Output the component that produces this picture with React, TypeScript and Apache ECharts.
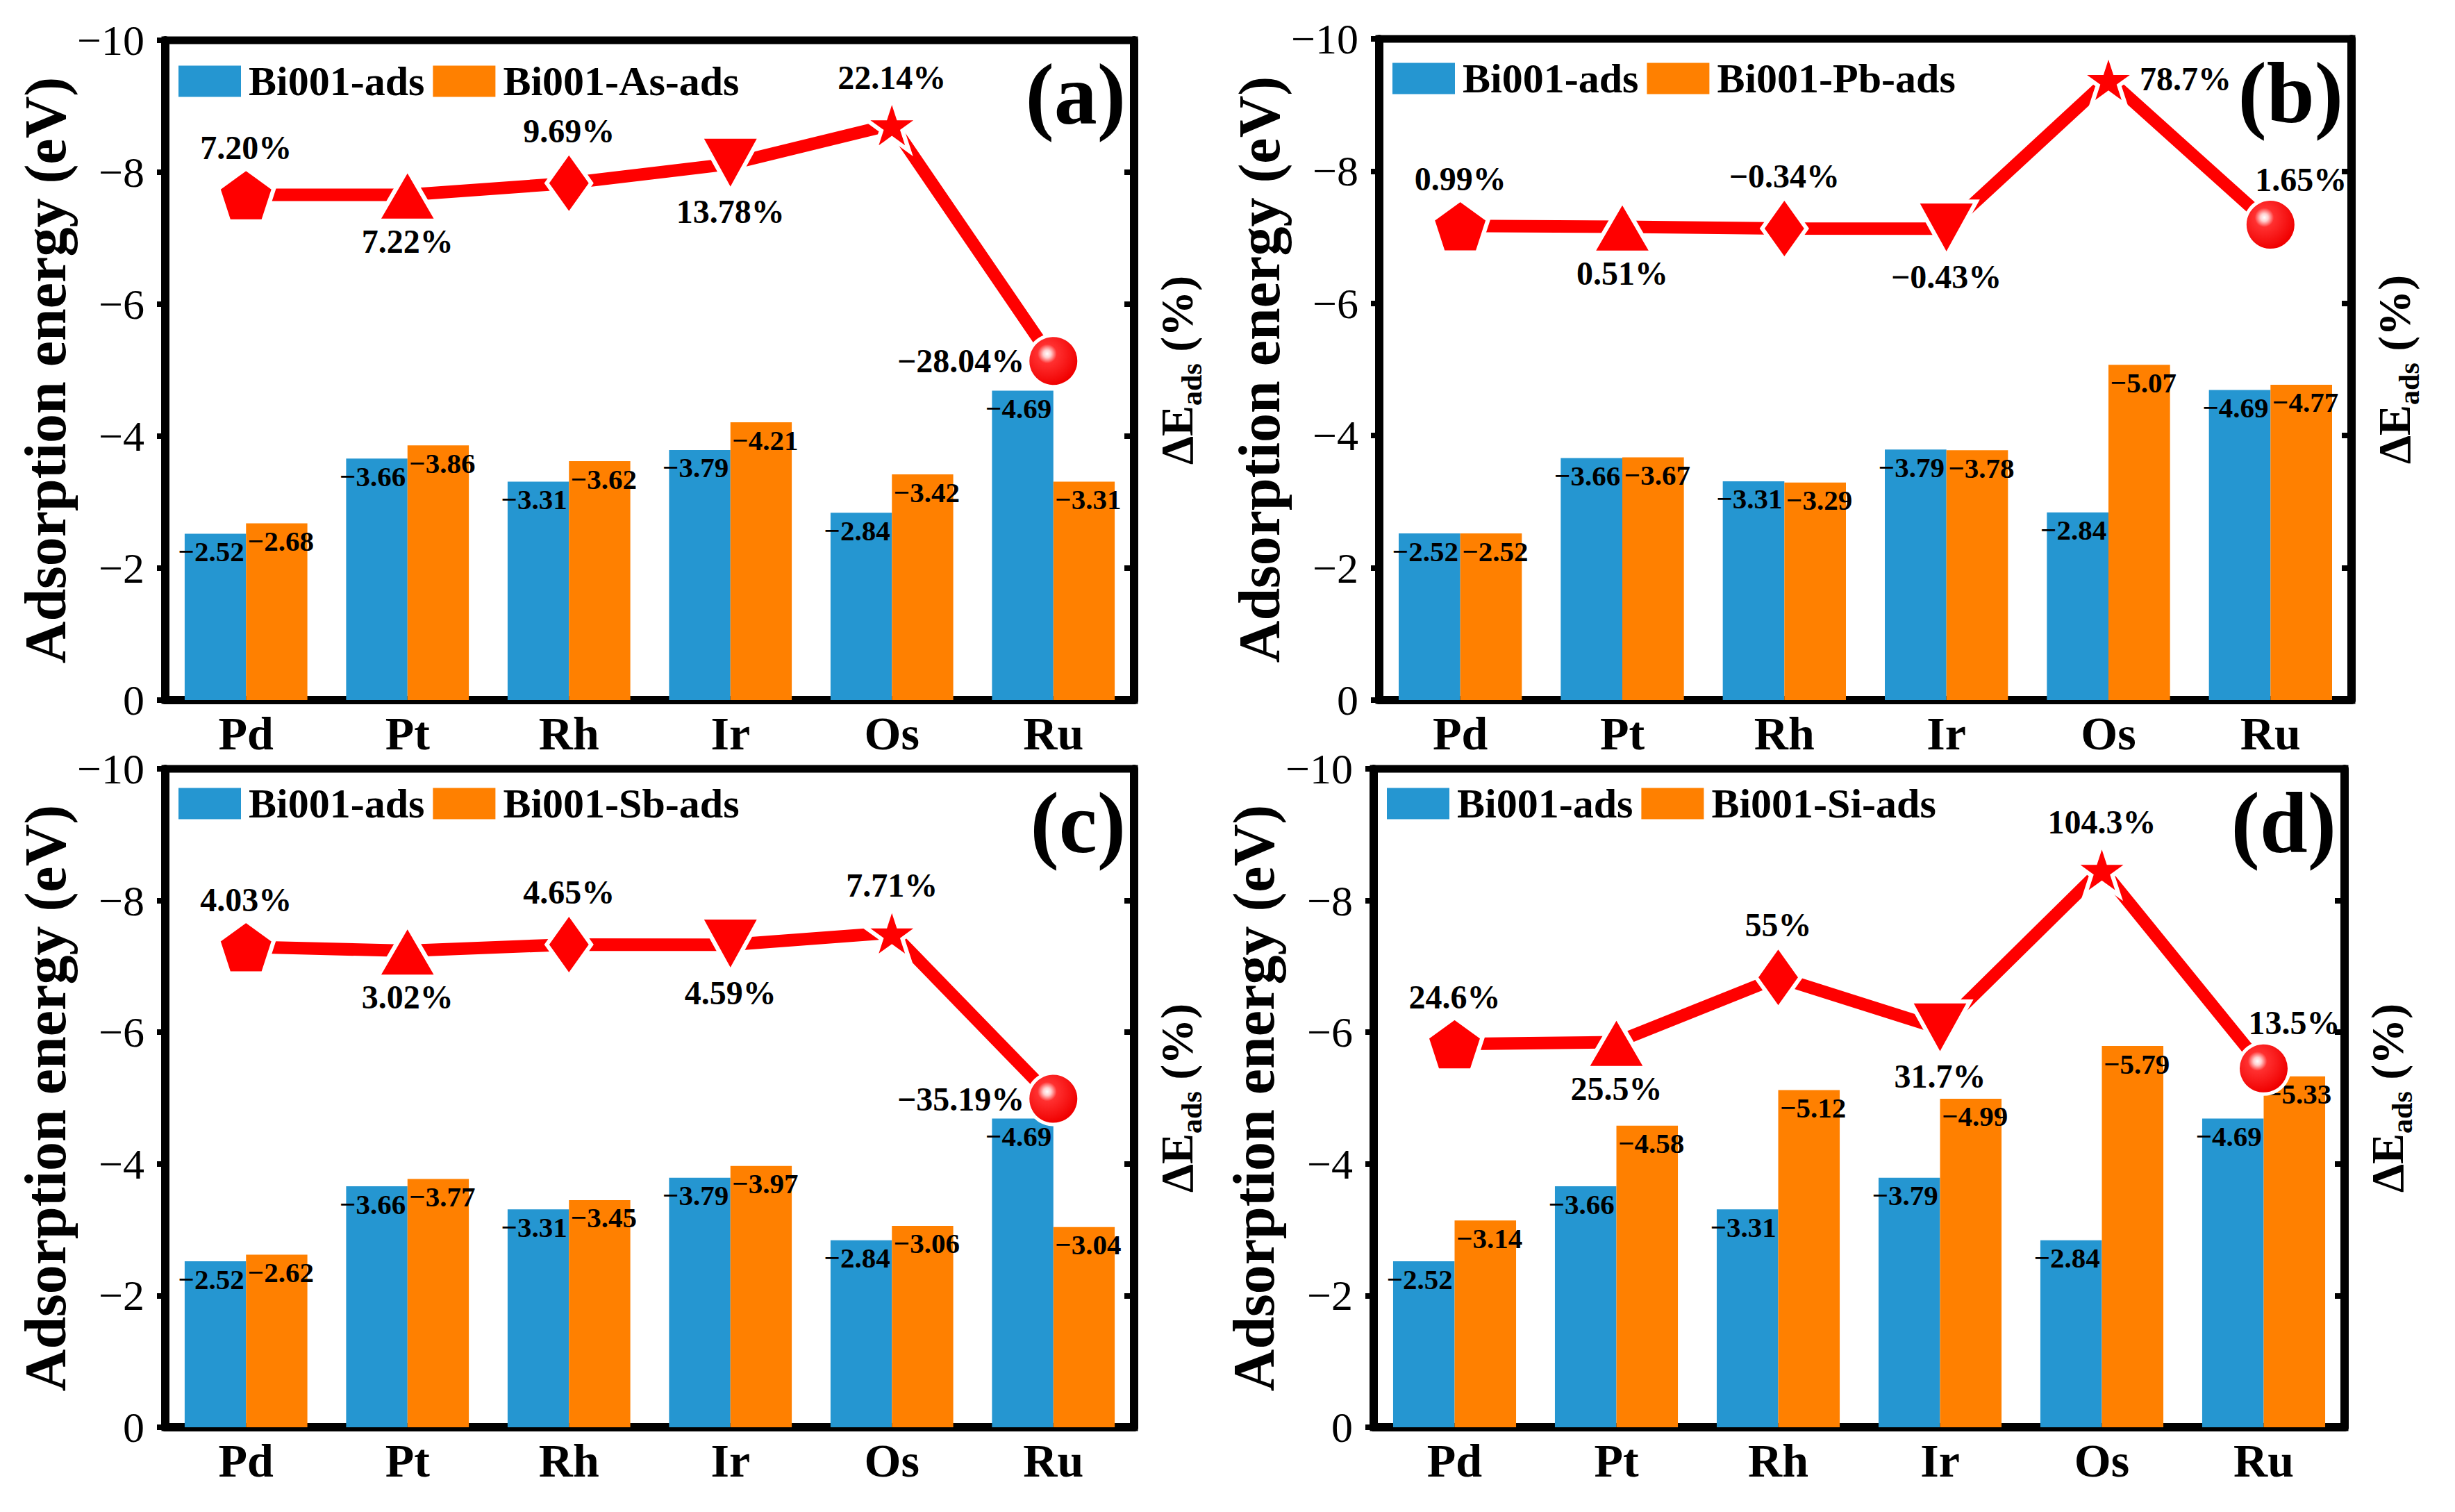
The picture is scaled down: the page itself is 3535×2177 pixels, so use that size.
import React, { useEffect, useRef } from "react";
import * as echarts from "echarts";

const categories = ["Pd", "Pt", "Rh", "Ir", "Os", "Ru"];

// adsorption energies (eV)
const bi001Ads = [-2.52, -3.66, -3.31, -3.79, -2.84, -4.69];
const asAds = [-2.68, -3.86, -3.62, -4.21, -3.42, -3.31];
const pbAds = [-2.52, -3.67, -3.29, -3.78, -5.07, -4.77];
const sbAds = [-2.62, -3.77, -3.45, -3.97, -3.06, -3.04];
const siAds = [-3.14, -4.58, -5.12, -4.99, -5.79, -5.33];

// ΔE_ads (%), kept as printed
const deltaAs = ["7.20", "7.22", "9.69", "13.78", "22.14", "-28.04"];
const deltaPb = ["0.99", "0.51", "-0.34", "-0.43", "78.7", "1.65"];
const deltaSb = ["4.03", "3.02", "4.65", "4.59", "7.71", "-35.19"];
const deltaSi = ["24.6", "25.5", "55", "31.7", "104.3", "13.5"];

// hidden ΔE axis extents (bottom, top)
const rangeAs = [-100, 40];
const rangePb = [-250, 100];
const rangeSb = [-120, 50];
const rangeSi = [-150, 150];

// energy axis
const energyMin = -10;
const energyMax = 0;
const energyStep = 2;

const FONT = "Liberation Serif, Times New Roman, DejaVu Serif, serif";
const BLUE = "#2596d1";
const ORANGE = "#ff8000";
const RED = "#ff0000";

const PENTAGON =
  "path://M0,-50L47.55,-15.45L29.39,40.45L-29.39,40.45L-47.55,-15.45Z";
const STAR =
  "path://M0,-50L11.23,-15.45L47.55,-15.45L18.17,5.9L29.39,40.45L0,19.1L-29.39,40.45L-18.17,5.9L-47.55,-15.45L-11.23,-15.45Z";

const markers: any[] = [
  { symbol: PENTAGON, symbolSize: [80, 76] },
  { symbol: "triangle", symbolSize: [86, 74] },
  { symbol: "diamond", symbolSize: [64, 90] },
  { symbol: "triangle", symbolSize: [86, 78], symbolRotate: 180 },
  { symbol: STAR, symbolSize: [80, 76] },
  { symbol: "circle", symbolSize: 74 },
];

const sphere = new echarts.graphic.RadialGradient(0.38, 0.36, 0.62, [
  { offset: 0, color: "#ffffff" },
  { offset: 0.12, color: "#ffd0d0" },
  { offset: 0.3, color: "#ff3030" },
  { offset: 1, color: "#f00000" },
]);

const posAs = ["top", "bottom", "top", "bottom", "top", "left"];
const posPb = ["top", "bottom", "top", "bottom", "right", "topRight"];
const posSb = ["top", "bottom", "top", "bottom", "top", "left"];
const posSi = ["top", "bottom", "top", "bottom", "top", "topRight"];

const panels = [
  { tag: "(a)", partner: "Bi001-As-ads", values: asAds, delta: deltaAs, range: rangeAs, pos: posAs, box: [238, 58, 1633, 1008], legendTop: 29 },
  { tag: "(b)", partner: "Bi001-Pb-ads", values: pbAds, delta: deltaPb, range: rangePb, pos: posPb, box: [1986, 56, 3386, 1008], legendTop: 27 },
  { tag: "(c)", partner: "Bi001-Sb-ads", values: sbAds, delta: deltaSb, range: rangeSb, pos: posSb, box: [238, 1107, 1633, 2055], legendTop: 20 },
  { tag: "(d)", partner: "Bi001-Si-ads", values: siAds, delta: deltaSi, range: rangeSi, pos: posSi, box: [1978, 1107, 3376, 2055], legendTop: 20 },
];

const minus = (s: string) => s.replace("-", "\u2212");

const labelFor = (pos: string) => {
  if (pos === "topRight") return { position: "top", offset: [44, 0], distance: 2 };
  return { position: pos, distance: pos === "left" || pos === "right" ? 2 : 3 };
};

const barLabel = (dx: number) => ({
  show: true,
  position: "insideTop",
  distance: 5,
  offset: [dx, 0],
  color: "#000",
  fontFamily: FONT,
  fontWeight: "bold",
  fontSize: 41,
  formatter: (d: any) => minus(Number(d.value).toFixed(2)),
});

function buildOption() {
  const option: any = {
    animation: false,
    backgroundColor: "#ffffff",
    textStyle: { fontFamily: FONT },
    title: [],
    legend: [],
    grid: [],
    xAxis: [],
    yAxis: [],
    series: [],
  };

  panels.forEach((p, k) => {
    const [x0, y0, x1, y1] = p.box;

    option.grid.push({
      left: x0,
      top: y0,
      width: x1 - x0,
      height: y1 - y0,
      show: true,
      borderColor: "#000",
      borderWidth: 11,
    });

    option.title.push({
      text: p.tag,
      right: 3535 - x1 + 12,
      top: y0 + 16,
      padding: 0,
      textStyle: { fontFamily: FONT, fontWeight: "bold", fontSize: 124, color: "#000" },
    });

    option.legend.push({
      left: x0 + 19,
      top: y0 + p.legendTop,
      padding: 0,
      icon: "rect",
      itemWidth: 90,
      itemHeight: 45,
      itemGap: 12,
      data: ["Bi001-ads", p.partner],
      textStyle: {
        fontFamily: FONT,
        fontWeight: "bold",
        fontSize: 60,
        color: "#000",
        padding: [0, 0, 0, 6],
      },
    });

    option.xAxis.push({
      type: "category",
      gridIndex: k,
      data: categories,
      axisLine: { lineStyle: { color: "#000", width: 12 } },
      axisTick: { show: false },
      axisLabel: { color: "#000", fontFamily: FONT, fontWeight: "bold", fontSize: 68, margin: 14 },
      splitLine: { show: false },
    });

    option.yAxis.push(
      {
        type: "value",
        gridIndex: k,
        position: "left",
        min: energyMin,
        max: energyMax,
        interval: energyStep,
        inverse: true,
        name: "Adsorption energy (eV)",
        nameLocation: "middle",
        nameRotate: 90,
        nameGap: 118,
        nameTextStyle: { fontFamily: FONT, fontWeight: "bold", fontSize: 84, color: "#000" },
        axisLine: { show: true, lineStyle: { color: "#000", width: 12 } },
        axisTick: { show: true, inside: false, length: 12, lineStyle: { color: "#000", width: 8 } },
        minorTick: { show: true, splitNumber: 2, length: 6, lineStyle: { color: "#000", width: 6 } },
        axisLabel: {
          color: "#000",
          fontFamily: FONT,
          fontSize: 62,
          margin: 30,
          formatter: (v: number) => (v === 0 ? "0" : "\u2212" + Math.abs(v)),
        },
        splitLine: { show: false },
      },
      {
        type: "value",
        gridIndex: k,
        position: "right",
        min: energyMin,
        max: energyMax,
        interval: energyStep,
        inverse: true,
        name: "{m|\u0394E}{s|ads}{m| (%)}",
        nameLocation: "middle",
        nameRotate: 90,
        nameGap: 28,
        nameTextStyle: {
          color: "#000",
          rich: {
            m: { fontFamily: FONT, fontWeight: "bold", fontSize: 66, color: "#000", verticalAlign: "bottom", padding: [0, 0, 10, 0] },
            s: { fontFamily: FONT, fontWeight: "bold", fontSize: 42, color: "#000", verticalAlign: "bottom" },
          },
        },
        axisLine: { show: true, lineStyle: { color: "#000", width: 12 } },
        axisTick: { show: true, inside: true, length: 14, lineStyle: { color: "#000", width: 8 } },
        axisLabel: { show: false },
        splitLine: { show: false },
      },
      {
        type: "value",
        gridIndex: k,
        position: "right",
        min: p.range[0],
        max: p.range[1],
        show: false,
        splitLine: { show: false },
      }
    );

    option.series.push(
      {
        type: "bar",
        name: "Bi001-ads",
        xAxisIndex: k,
        yAxisIndex: 3 * k,
        data: bi001Ads,
        barGap: "0%",
        barCategoryGap: "24%",
        itemStyle: { color: BLUE },
        label: barLabel(-6),
      },
      {
        type: "bar",
        name: p.partner,
        xAxisIndex: k,
        yAxisIndex: 3 * k,
        data: p.values,
        barGap: "0%",
        barCategoryGap: "24%",
        itemStyle: { color: ORANGE },
        label: barLabel(6),
      },
      {
        type: "line",
        xAxisIndex: k,
        yAxisIndex: 3 * k + 2,
        z: 5,
        symbolKeepAspect: false,
        lineStyle: { color: RED, width: 18, cap: "round" },
        itemStyle: { color: RED, borderColor: "#ffffff", borderWidth: 6 },
        data: p.delta.map((s, i) => ({
          value: Number(s),
          ...markers[i],
          itemStyle: i === 5 ? { color: sphere, borderColor: "#ffffff", borderWidth: 5 } : undefined,
          label: labelFor(p.pos[i]),
        })),
        label: {
          show: true,
          color: "#000",
          fontFamily: FONT,
          fontWeight: "bold",
          fontSize: 48,
          formatter: (d: any) => minus(p.delta[d.dataIndex]) + "%",
        },
      }
    );
  });

  return option;
}

const App: React.FC = () => {
  const chartRef = useRef<HTMLDivElement>(null);

  useEffect(() => {
    if (!chartRef.current) return;
    const chart = echarts.init(chartRef.current, undefined, { renderer: "svg" });
    chart.setOption(buildOption());
    return () => chart.dispose();
  }, []);

  return (
    <div
      ref={chartRef}
      style={{ position: "absolute", left: 0, top: 0, width: 3535, height: 2177, background: "#fff" }}
    />
  );
};

export default App;
